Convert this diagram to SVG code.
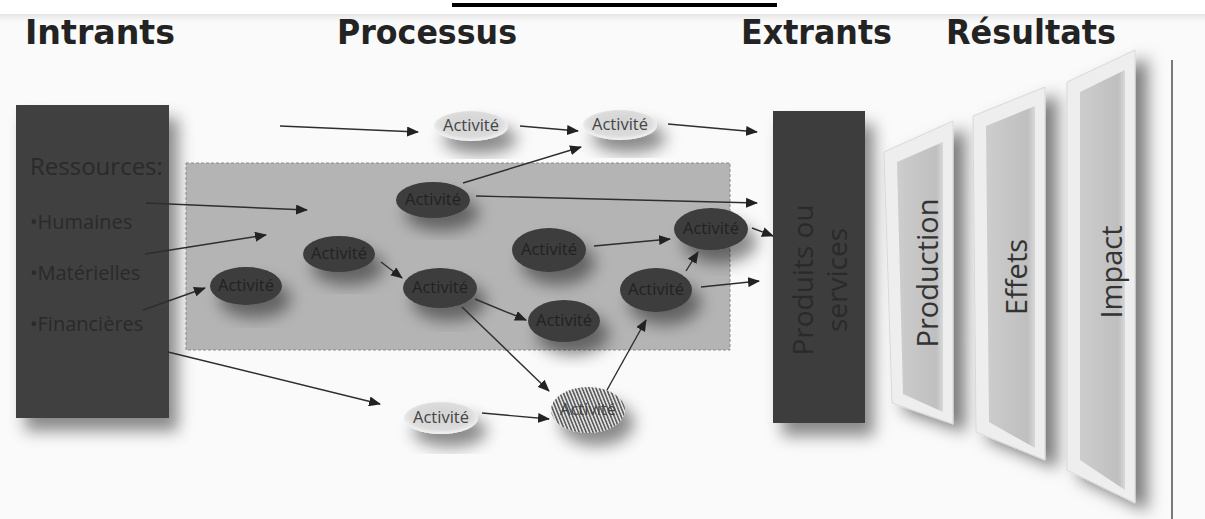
<svg xmlns="http://www.w3.org/2000/svg" width="1205" height="519" viewBox="0 0 1205 519">
<defs>
<style>
.hdr{font-family:"DejaVu Sans",Verdana,sans-serif;font-weight:bold;font-size:33px;fill:#232323}
.res{font-family:"Open Sans","Noto Sans",sans-serif;fill:#2a2a2a}
.act{font-family:"Open Sans","Noto Sans",sans-serif;font-size:16.5px;text-anchor:middle}
.dk{fill:#3c3c3c}
.dkt{fill:#222}
.lt{fill:url(#lightG)}
.ltt{fill:#444}
.ln{stroke:#2e2e2e;stroke-width:1.4;fill:none;marker-end:url(#ah)}
.pnl{font-family:"Open Sans","Noto Sans",sans-serif;font-size:29px;fill:#333;text-anchor:middle}
.outer{fill:#eeeeee;stroke:#d8d8d8;stroke-width:1}
.inner{fill:url(#faceG)}
</style>
<marker id="ah" markerUnits="userSpaceOnUse" markerWidth="12" markerHeight="10" refX="11" refY="5" orient="auto">
<path d="M0,0 L12,5 L0,10 z" fill="#222"/>
</marker>
<filter id="sh" x="-40%" y="-40%" width="200%" height="200%">
<feDropShadow dx="9" dy="13" stdDeviation="8" flood-color="#000" flood-opacity="0.45"/>
</filter>
<filter id="shp" x="-40%" y="-20%" width="200%" height="150%">
<feDropShadow dx="12" dy="8" stdDeviation="8" flood-color="#000" flood-opacity="0.5"/>
</filter>
<radialGradient id="lightG" cx="50%" cy="45%" r="55%">
<stop offset="0" stop-color="#d2d2d2"/>
<stop offset="0.75" stop-color="#dcdcdc"/>
<stop offset="1" stop-color="#f4f4f4"/>
</radialGradient>
<linearGradient id="faceG" x1="0" y1="0" x2="1" y2="0">
<stop offset="0" stop-color="#cdcdcd"/>
<stop offset="0.85" stop-color="#bfbfbf"/>
<stop offset="1" stop-color="#d8d8d8"/>
</linearGradient>
<linearGradient id="topG" x1="0" y1="0" x2="0" y2="1">
<stop offset="0" stop-color="#e6e6e6"/>
<stop offset="1" stop-color="#fafafa"/>
</linearGradient>
<pattern id="hatch" patternUnits="userSpaceOnUse" width="3.2" height="10" patternTransform="rotate(-22)">
<rect width="3.2" height="10" fill="#e2e2e2"/>
<rect width="1.5" height="10" fill="#555"/>
</pattern>
</defs>

<rect x="0" y="0" width="1205" height="519" fill="#ffffff"/>
<rect x="0" y="14" width="1205" height="505" fill="#fafafa"/>
<rect x="0" y="14" width="1205" height="8" fill="url(#topG)"/>
<rect x="452" y="3" width="325" height="4" fill="#000"/>
<line x1="1172" y1="60" x2="1172" y2="519" stroke="#7a7a7a" stroke-width="2"/>

<g id="headers">
<text class="hdr" x="25" y="44" textLength="150" lengthAdjust="spacingAndGlyphs">Intrants</text>
<text class="hdr" x="337" y="44" textLength="180" lengthAdjust="spacingAndGlyphs">Processus</text>
<text class="hdr" x="741" y="44" textLength="151" lengthAdjust="spacingAndGlyphs">Extrants</text>
<text class="hdr" x="946" y="44" textLength="170" lengthAdjust="spacingAndGlyphs">Résultats</text>
</g>

<g id="intrants">
<rect x="16" y="105" width="153" height="313" fill="#3f3f3f" filter="url(#sh)"/>
<text class="res" x="30" y="175" font-size="24">Ressources:</text>
<text class="res" x="30" y="229" font-size="20">•Humaines</text>
<text class="res" x="30" y="280" font-size="20">•Matérielles</text>
<text class="res" x="30" y="331" font-size="20">•Financières</text>
</g>

<g id="processus-zone">
<rect x="186" y="163" width="544" height="187" fill="#b4b4b4" stroke="#8a8a8a" stroke-width="1" stroke-dasharray="3 2"/>
</g>

<g id="a1"><ellipse class="dk" cx="246" cy="286" rx="36" ry="19" filter="url(#sh)"/><text class="act dkt" x="246" y="291">Activité</text></g>
<g id="a2"><ellipse class="dk" cx="339" cy="254" rx="36" ry="18" filter="url(#sh)"/><text class="act dkt" x="339" y="259">Activité</text></g>
<g id="a3"><ellipse class="dk" cx="433" cy="200" rx="37" ry="18" filter="url(#sh)"/><text class="act dkt" x="433" y="205">Activité</text></g>
<g id="a4"><ellipse class="dk" cx="440" cy="288" rx="37" ry="20" filter="url(#sh)"/><text class="act dkt" x="440" y="293">Activité</text></g>
<g id="a5"><ellipse class="dk" cx="549" cy="250" rx="37" ry="22" filter="url(#sh)"/><text class="act dkt" x="549" y="255">Activité</text></g>
<g id="a6"><ellipse class="dk" cx="564" cy="321" rx="36" ry="21" filter="url(#sh)"/><text class="act dkt" x="564" y="326">Activité</text></g>
<g id="a7"><ellipse class="dk" cx="656" cy="290" rx="36" ry="22" filter="url(#sh)"/><text class="act dkt" x="656" y="295">Activité</text></g>
<g id="a8"><ellipse class="dk" cx="711" cy="229" rx="37" ry="21" filter="url(#sh)"/><text class="act dkt" x="711" y="234">Activité</text></g>

<g id="l1"><ellipse class="lt" cx="471" cy="126" rx="37" ry="15" filter="url(#sh)"/><text class="act ltt" x="471" y="131">Activité</text></g>
<g id="l2"><ellipse class="lt" cx="620" cy="125" rx="37" ry="15" filter="url(#sh)"/><text class="act ltt" x="620" y="130">Activité</text></g>
<g id="l3"><ellipse class="lt" cx="441" cy="418" rx="37" ry="16" filter="url(#sh)"/><text class="act ltt" x="441" y="423">Activité</text></g>
<g id="h1"><ellipse cx="588" cy="410" rx="37" ry="23" fill="url(#hatch)" filter="url(#sh)"/><text class="act ltt" x="588" y="415">Activité</text></g>

<g id="connectors">
<line class="ln" x1="280" y1="126" x2="418" y2="132"/>
<line class="ln" x1="520" y1="126" x2="578" y2="131"/>
<line class="ln" x1="668" y1="124" x2="757" y2="132"/>
<line class="ln" x1="463" y1="183" x2="581" y2="147"/>
<line class="ln" x1="476" y1="196" x2="757" y2="203"/>
<line class="ln" x1="146" y1="203" x2="307" y2="210"/>
<line class="ln" x1="145" y1="254" x2="266" y2="235"/>
<line class="ln" x1="143" y1="310" x2="205" y2="288"/>
<line class="ln" x1="168" y1="352" x2="380" y2="404"/>
<line class="ln" x1="381" y1="262" x2="402" y2="278"/>
<line class="ln" x1="475" y1="299" x2="526" y2="320"/>
<line class="ln" x1="462" y1="307" x2="549" y2="391"/>
<line class="ln" x1="594" y1="246" x2="670" y2="239"/>
<line class="ln" x1="686" y1="271" x2="698" y2="252"/>
<line class="ln" x1="701" y1="287" x2="759" y2="281"/>
<line class="ln" x1="752" y1="228" x2="773" y2="236"/>
<line class="ln" x1="607" y1="390" x2="646" y2="320"/>
<line class="ln" x1="482" y1="413" x2="549" y2="419"/>
</g>

<g id="produits">
<rect x="773" y="111" width="92" height="312" fill="#3d3d3d" filter="url(#sh)"/>
<text class="res" font-size="28" text-anchor="middle" transform="translate(813,280) rotate(-90)">Produits ou</text>
<text class="res" font-size="28" text-anchor="middle" transform="translate(847,280) rotate(-90)">services</text>
</g>

<g id="production">
<polygon class="outer" points="884,152 953,121 953,424 892,403" filter="url(#shp)"/>
<polygon class="inner" points="897,162 943,142 943,412 903,394"/>
<text class="pnl" transform="translate(938,273) rotate(-90)">Production</text>
</g>

<g id="effets">
<polygon class="outer" points="973,116 1045,87 1045,460 976,432" filter="url(#shp)"/>
<polygon class="inner" points="986,126 1035,106 1035,448 989,422"/>
<text class="pnl" transform="translate(1027,277) rotate(-90)">Effets</text>
</g>

<g id="impact">
<polygon class="outer" points="1067,82 1135,50 1135,503 1067,470" filter="url(#shp)"/>
<polygon class="inner" points="1080,92 1125,70 1125,490 1080,460"/>
<text class="pnl" transform="translate(1122,272) rotate(-90)">Impact</text>
</g>
</svg>
